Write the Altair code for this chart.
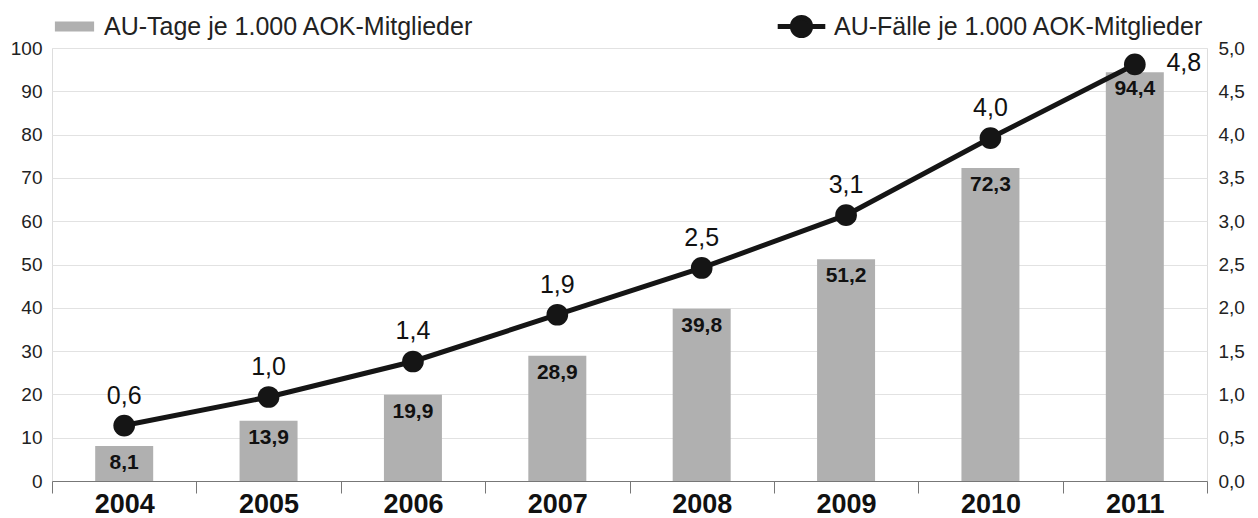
import altair as alt
import pandas as pd

years = ["2004", "2005", "2006", "2007", "2008", "2009", "2010", "2011"]
au_tage = [8.1, 13.9, 19.9, 28.9, 39.8, 51.2, 72.3, 94.4]
au_faelle = [0.64, 0.97, 1.38, 1.92, 2.46, 3.07, 3.96, 4.81]
bar_name = "AU-Tage je 1.000 AOK-Mitglieder"
line_name = "AU-Fälle je 1.000 AOK-Mitglieder"

FONT = "Liberation Sans"

df = pd.DataFrame({
    "Jahr": years,
    "Tage": au_tage,
    "Faelle": au_faelle,
    "bar_series": bar_name,
    "line_series": line_name,
})
df["Tage_lbl"] = [f"{v:.1f}".replace(".", ",") for v in au_tage]
df["Faelle_lbl"] = [f"{v:.1f}".replace(".", ",") for v in au_faelle]

x_enc = alt.X(
    "Jahr:N",
    sort=years,
    scale=alt.Scale(paddingInner=0, paddingOuter=0),
    axis=alt.Axis(
        title=None, labelAngle=0, labelFont=FONT, labelFontSize=27,
        labelFontWeight="bold", labelColor="#111", tickBand="extent",
        tickSize=12, tickColor="#777", domainColor="#777", labelPadding=-2,
        grid=False,
    ),
)

y_left = alt.Y(
    "Tage:Q",
    scale=alt.Scale(domain=[0, 100]),
    axis=alt.Axis(
        title=None, values=list(range(0, 101, 10)), ticks=False, domain=False,
        grid=True, gridColor="#e2e2e2", labelFont=FONT, labelFontSize=19,
        labelColor="#222", labelPadding=10,
    ),
)

y_right = alt.Y(
    "Faelle:Q",
    scale=alt.Scale(domain=[0, 5]),
    axis=alt.Axis(
        title=None, orient="right", values=[i * 0.5 for i in range(11)],
        ticks=False, domain=False, grid=False, labelFont=FONT, labelFontSize=19,
        labelColor="#222", labelPadding=11,
        labelExpr="replace(format(datum.value, '.1f'), '.', ',')",
    ),
)

rect_path = "M-2.8,-0.7H2.8V0.7H-2.8Z"
line_path = "M-3.4,0H3.4M-1.3,0A1.3,1.3 0 1,1 1.3,0A1.3,1.3 0 1,1 -1.3,0Z"

bars = alt.Chart(df).mark_bar(size=58).encode(
    x=x_enc,
    y=y_left,
    color=alt.Color(
        "bar_series:N",
        scale=alt.Scale(range=["#b0b0b0"]),
        legend=alt.Legend(
            title=None, orient="none", legendX=10, legendY=-34,
            symbolType=rect_path, symbolSize=196, symbolStrokeWidth=0,
            labelOffset=17, labelFont=FONT, labelFontSize=25, labelColor="#222",
            labelLimit=700,
        ),
    ),
)

bar_text = alt.Chart(df).mark_text(
    baseline="middle", dy=17, font=FONT, fontSize=21, fontWeight="bold", color="#111"
).encode(x=x_enc, y=y_left, text="Tage_lbl:N")

bar_layer = alt.layer(bars, bar_text)

line = alt.Chart(df).mark_line(strokeWidth=5).encode(
    x=x_enc,
    y=y_right,
    color=alt.Color(
        "line_series:N",
        scale=alt.Scale(range=["#151515"]),
        legend=alt.Legend(
            title=None, orient="none", legendX=737, legendY=-34,
            symbolType=line_path, symbolSize=196, symbolStrokeWidth=5,
            symbolFillColor="#151515", symbolStrokeColor="#151515",
            labelOffset=20, labelFont=FONT, labelFontSize=25, labelColor="#222",
            labelLimit=700,
        ),
    ),
)

points = alt.Chart(df).mark_circle(size=470, opacity=1, color="#151515").encode(
    x=x_enc, y=y_right
)

line_text = alt.Chart(df).transform_filter(alt.datum.Jahr != "2011").mark_text(
    baseline="middle", dy=-30, font=FONT, fontSize=25, color="#111"
).encode(x=x_enc, y=y_right, text="Faelle_lbl:N")

line_text_last = alt.Chart(df).transform_filter(alt.datum.Jahr == "2011").mark_text(
    baseline="middle", dx=49, dy=-1, font=FONT, fontSize=25, color="#111"
).encode(x=x_enc, y=y_right, text="Faelle_lbl:N")

line_layer = alt.layer(line, points, line_text, line_text_last)

chart = alt.layer(bar_layer, line_layer).resolve_scale(
    y="independent", color="independent"
).properties(
    width=1155,
    height=433,
    autosize=alt.AutoSizeParams(type="none"),
    padding={"left": 44, "top": 40, "right": 40, "bottom": 36},
).configure_view(
    stroke="#888", strokeWidth=1
).configure(background="white")

chart.save("out.html", embed_options={"renderer": "svg", "actions": False})
